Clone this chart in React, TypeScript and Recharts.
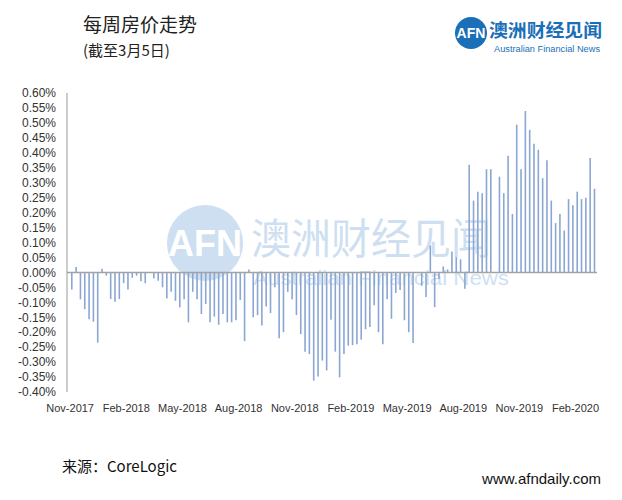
import React from 'react';
import { BarChart, Bar, XAxis, YAxis, ReferenceLine } from 'recharts';

// weekly change in home values, % (Nov-2017 .. 5 Mar 2020)
const weeklyChange = [
  -0.057, 0.018, -0.09, -0.123, -0.157, -0.165, -0.235, 0.012, -0.011, -0.089,
  -0.098, -0.089, -0.036, -0.057, -0.018, -0.011, -0.03, -0.036, 0.0, -0.02,
  -0.028, -0.05, -0.087, -0.065, -0.095, -0.117, -0.09, -0.167, -0.065, -0.09,
  -0.139, -0.106, -0.167, -0.148, -0.175, -0.139, -0.167, -0.167, -0.16, -0.092,
  -0.23, 0.01, -0.15, -0.143, -0.178, -0.114, -0.136, -0.05, -0.22, -0.2,
  -0.065, -0.09, -0.143, -0.206, -0.265, -0.273, -0.362, -0.348, -0.295, -0.328,
  -0.158, -0.265, -0.351, -0.273, -0.245, -0.243, -0.24, -0.225, -0.19, -0.183,
  -0.11, -0.2, -0.24, -0.09, -0.155, -0.069, -0.059, -0.16, -0.2, -0.236,
  0.0, -0.045, -0.082, 0.09, -0.116, -0.022, 0.02, 0.01, 0.07, 0.05,
  0.044, -0.055, 0.36, 0.24, 0.27, 0.265, 0.345, 0.345, 0.0, 0.32,
  0.265, 0.39, 0.195, 0.494, 0.345, 0.54, 0.477, 0.43, 0.41, 0.315,
  0.375, 0.24, 0.165, 0.195, 0.14, 0.245, 0.225, 0.27, 0.245, 0.25,
  0.383, 0.28,
];

const xTickLabels = [
  'Nov-2017', 'Feb-2018', 'May-2018', 'Aug-2018', 'Nov-2018',
  'Feb-2019', 'May-2019', 'Aug-2019', 'Nov-2019', 'Feb-2020',
];

const yTicks = [
  -0.4, -0.35, -0.3, -0.25, -0.2, -0.15, -0.1, -0.05, 0, 0.05, 0.1,
  0.15, 0.2, 0.25, 0.3, 0.35, 0.4, 0.45, 0.5, 0.55, 0.6,
];

const data = weeklyChange.map((v, i) => ({ week: i, change: v }));

const cjk = '"Noto Sans CJK SC", "Liberation Sans", sans-serif';
const latin = '"Liberation Sans", Arial, sans-serif';

const Watermark = () => (
  <svg width={622} height={500} style={{ position: 'absolute', left: 0, top: 0 }}>
    <g opacity={0.28}>
      <circle cx={205} cy={243} r={38} fill="#4f8fd0" />
      <text x={205} y={256} textAnchor="middle" fill="#fff" fontFamily={latin}
        fontSize={36} fontWeight="bold">AFN</text>
      <text x={251} y={254} fill="#4f8fd0" fontFamily={cjk} fontSize={42}
        textLength={240} lengthAdjust="spacingAndGlyphs">澳洲财经见闻</text>
      <text x={253} y={285} fill="#4f8fd0" fontFamily={latin} fontSize={20}
        textLength={256} lengthAdjust="spacingAndGlyphs">Australian Financial News</text>
    </g>
  </svg>
);

const Header = () => (
  <svg width={622} height={80} style={{ position: 'absolute', left: 0, top: 0 }}>
    <text x={83} y={32} fill="#222" fontFamily={cjk} fontSize={19}>每周房价走势</text>
    <text x={83} y={56} fill="#222" fontFamily={cjk} fontSize={15}>(截至3月5日)</text>
    <circle cx={471} cy={33} r={16} fill="#1b6fb8" />
    <text x={471} y={38} textAnchor="middle" fill="#fff" fontFamily={latin}
      fontSize={14} fontWeight="bold">AFN</text>
    <text x={489} y={37} fill="#1b6fb8" fontFamily={cjk} fontSize={18} fontWeight="bold"
      textLength={113} lengthAdjust="spacingAndGlyphs">澳洲财经见闻</text>
    <text x={494} y={52} fill="#1b6fb8" fontFamily={latin} fontSize={8.5}
      textLength={106} lengthAdjust="spacingAndGlyphs">Australian Financial News</text>
  </svg>
);

const Footer = () => (
  <svg width={622} height={500} style={{ position: 'absolute', left: 0, top: 0 }}>
    <text x={62} y={472} fill="#111" fontFamily={cjk} fontSize={15}>来源：CoreLogic</text>
    <text x={601} y={484} textAnchor="end" fill="#111" fontFamily={latin} fontSize={15}>
      www.afndaily.com
    </text>
  </svg>
);

const App: React.FC = () => {
  return (
    <div style={{ position: 'absolute', left: 0, top: 0, width: 622, height: 500, background: '#fff' }}>
      <Watermark />
      <div style={{ position: 'absolute', left: 0, top: 0 }}>
        <BarChart width={622} height={500} data={data}
          margin={{ top: 93, right: 25, bottom: 78, left: 0 }} barCategoryGap={0}>
          <XAxis dataKey="week" type="category" interval={12} axisLine={false} tickLine={false}
            padding={{ left: 3, right: 0 }} height={30} tickMargin={6} dx={-2}
            tick={{ fontSize: 11, fill: '#333', fontFamily: latin }}
            tickFormatter={(i: number) => xTickLabels[Math.round(i / 13)] ?? ''} />
          <YAxis type="number" domain={[-0.4, 0.6]} ticks={yTicks} width={67}
            axisLine={{ stroke: '#9a9a9a' }} tickLine={false} tickMargin={5}
            interval={0} allowDataOverflow
            tick={{ fontSize: 12, fill: '#333', fontFamily: latin }}
            tickFormatter={(v: number) => v.toFixed(2) + '%'} />
          <ReferenceLine y={0} stroke="#a3a3a3" strokeWidth={1.5} />
          <Bar dataKey="change" fill="#8aa6d3" barSize={1.6} isAnimationActive={false} />
        </BarChart>
      </div>
      <Header />
      <Footer />
    </div>
  );
};

export default App;
